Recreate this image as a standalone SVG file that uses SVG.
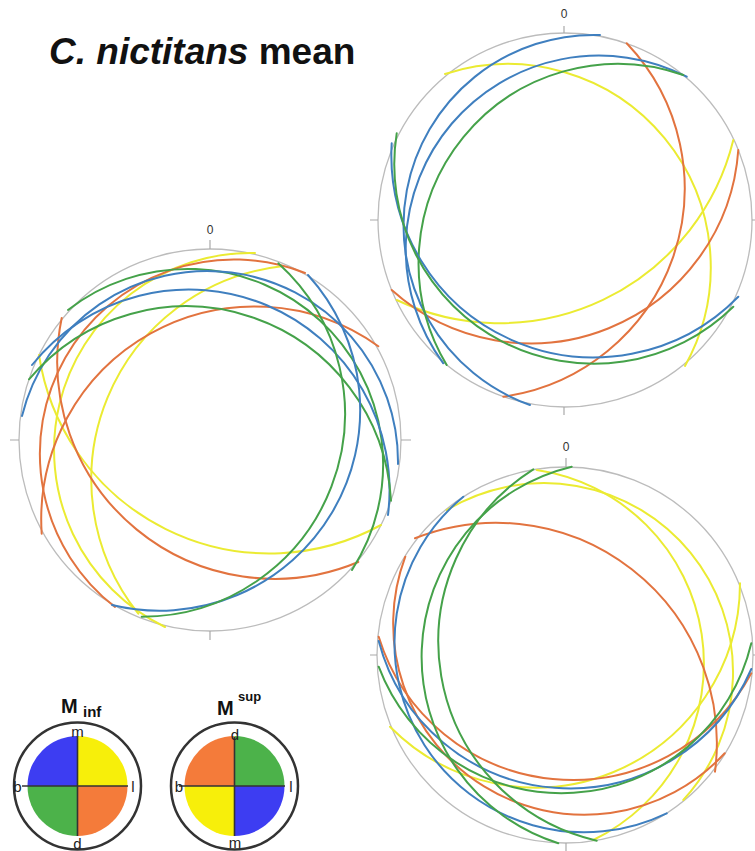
<svg xmlns="http://www.w3.org/2000/svg" width="755" height="851" viewBox="0 0 755 851">
<style>
.prim{fill:none;stroke:#bcbcbc;stroke-width:1.3}
.tick{stroke:#aaaaaa;stroke-width:1.2}
.zero{font-family:"Liberation Sans",Arial,sans-serif;font-size:12px;fill:#333;text-anchor:middle}
.arc{fill:none;stroke-width:2;stroke-linecap:round}
.b{stroke:#3f7fbf}.g{stroke:#45a24a}.o{stroke:#e2733f}.y{stroke:#ebeb32}
.lbl{font-family:"Liberation Sans",Arial,sans-serif;font-size:15px;fill:#222;text-anchor:middle}
.ring{fill:none;stroke:#333;stroke-width:2.5}
.cross{stroke:#333;stroke-width:1.6}
.ttl{font-family:"Liberation Sans",Arial,sans-serif;font-weight:bold;fill:#111}
</style>
<text class="ttl" x="49" y="64" font-size="37"><tspan font-style="italic">C. nictitans</tspan> mean</text>

<g id="net-top-right">
<circle class="prim" cx="565" cy="220" r="187"/>
<path class="tick" d="M564,26V33M370,220H378M752,220H760M564,407V415"/>
<text class="zero" x="564" y="18">0</text>
</g>
<g id="net-left">
<circle class="prim" cx="210" cy="440" r="191"/>
<path class="tick" d="M210,240V249M10,440H19M401,440H411M210,631V640"/>
<text class="zero" x="210" y="234">0</text>
</g>
<g id="net-bottom-right">
<circle class="prim" cx="565" cy="655" r="188"/>
<path class="tick" d="M566,458V467M370,655H377M753,655H760M566,843V851"/>
<text class="zero" x="566" y="451">0</text>
</g>

<g id="connectors">
<g id="arcs-top-right">
<path class="arc y" d="M445,74A203,203 0 0 1 685,366"/>
<path class="arc y" d="M733.3,140A240.5,240.5 0 0 1 396.7,300"/>
<path class="arc o" d="M626.7,43.3A210.4,210.4 0 0 1 503.3,396.7"/>
<path class="arc o" d="M738.3,150A208,208 0 0 1 391.7,290"/>
<path class="arc b" d="M600,35A190.6,190.6 0 0 0 530,405"/>
<path class="arc b" d="M686.7,76.7A193.2,193.2 0 0 0 443.3,363.3"/>
<path class="arc g" d="M683.3,75A199.1,199.1 0 0 0 446.7,365"/>
<path class="arc b" d="M391.7,143.3A202.4,202.4 0 0 0 738.3,296.7"/>
<path class="arc g" d="M396.7,133.3A199.4,199.4 0 0 0 733.3,306.7"/>
</g>
<g id="arcs-left">
<path class="arc y" d="M39,355A233.1,233.1 0 0 0 381,525"/>
<path class="arc y" d="M281.7,266.3A214.7,214.7 0 0 0 138.3,613.7"/>
<path class="arc y" d="M255,253A196.9,196.9 0 0 0 165,627"/>
<path class="arc o" d="M61.7,318A217.2,217.2 0 0 0 358.3,562"/>
<path class="arc o" d="M378.3,346.3A213.1,213.1 0 0 0 41.7,533.7"/>
<path class="arc o" d="M305,273A194.1,194.1 0 0 0 115,607"/>
<path class="arc g" d="M68,310A195.3,195.3 0 0 1 352,570"/>
<path class="arc b" d="M32,365A200.7,200.7 0 0 1 388,515"/>
<path class="arc b" d="M22,416A190.8,190.8 0 0 1 398,464"/>
<path class="arc g" d="M29,379.3A205.3,205.3 0 0 1 391,500.7"/>
<path class="arc b" d="M308,275A200.7,200.7 0 0 1 112,605"/>
<path class="arc g" d="M278.3,263.3A203,203 0 0 1 141.7,616.7"/>
</g>
<g id="arcs-bottom-right">
<path class="arc y" d="M740,583.3A204.5,204.5 0 0 1 390,726.7"/>
<path class="arc y" d="M536.7,470A195.8,195.8 0 0 1 593.3,840"/>
<path class="arc y" d="M446.7,510A189.1,189.1 0 0 1 683.3,800"/>
<path class="arc o" d="M415,538.3A220.5,220.5 0 0 1 715,771.7"/>
<path class="arc o" d="M405.3,556.7A191.1,191.1 0 0 0 724.7,753.3"/>
<path class="arc o" d="M378.7,636.7A202.9,202.9 0 0 0 751.3,673.3"/>
<path class="arc b" d="M463.3,496.7A189.5,189.5 0 0 0 666.7,813.3"/>
<path class="arc b" d="M378.7,641A197.6,197.6 0 0 0 751.3,669"/>
<path class="arc g" d="M378.7,666.7A195.2,195.2 0 0 0 751.3,643.3"/>
<path class="arc g" d="M571.7,466.7A195.5,195.5 0 0 0 558.3,843.3"/>
<path class="arc g" d="M533.3,469.3A204.1,204.1 0 0 0 596.7,840.7"/>
</g>
</g>

<g id="legend-inf">
<text class="ttl" x="61" y="713" font-size="20">M</text>
<text class="ttl" x="83" y="716.5" font-size="15">inf</text>
<path fill="#3d3df2" d="M77.5,786H27.5A50,50 0 0 1 77.5,736Z"/>
<path fill="#f7ef0a" d="M77.5,786V736A50,50 0 0 1 127.5,786Z"/>
<path fill="#f47b3a" d="M77.5,786H127.5A50,50 0 0 1 77.5,836Z"/>
<path fill="#4cb24a" d="M77.5,786V836A50,50 0 0 1 27.5,786Z"/>
<path class="cross" d="M22,786H128M77.5,737V836"/>
<circle class="ring" cx="77.5" cy="786" r="63.5"/>
<text class="lbl" x="77.5" y="737">m</text>
<text class="lbl" x="17.5" y="791.5">b</text>
<text class="lbl" x="133" y="791.5">l</text>
<text class="lbl" x="77.5" y="849">d</text>
</g>
<g id="legend-sup">
<text class="ttl" x="217" y="715" font-size="20">M</text>
<text class="ttl" x="238" y="701" font-size="13">sup</text>
<path fill="#f47b3a" d="M234.5,786H184.5A50,50 0 0 1 234.5,736Z"/>
<path fill="#4cb24a" d="M234.5,786V736A50,50 0 0 1 284.5,786Z"/>
<path fill="#3d3df2" d="M234.5,786H284.5A50,50 0 0 1 234.5,836Z"/>
<path fill="#f7ef0a" d="M234.5,786V836A50,50 0 0 1 184.5,786Z"/>
<path class="cross" d="M179,786H285M234.5,737V836"/>
<circle class="ring" cx="234.5" cy="786" r="63.5"/>
<text class="lbl" x="235" y="740">d</text>
<text class="lbl" x="179" y="791.5">b</text>
<text class="lbl" x="291" y="791.5">l</text>
<text class="lbl" x="235" y="848">m</text>
</g>
</svg>
